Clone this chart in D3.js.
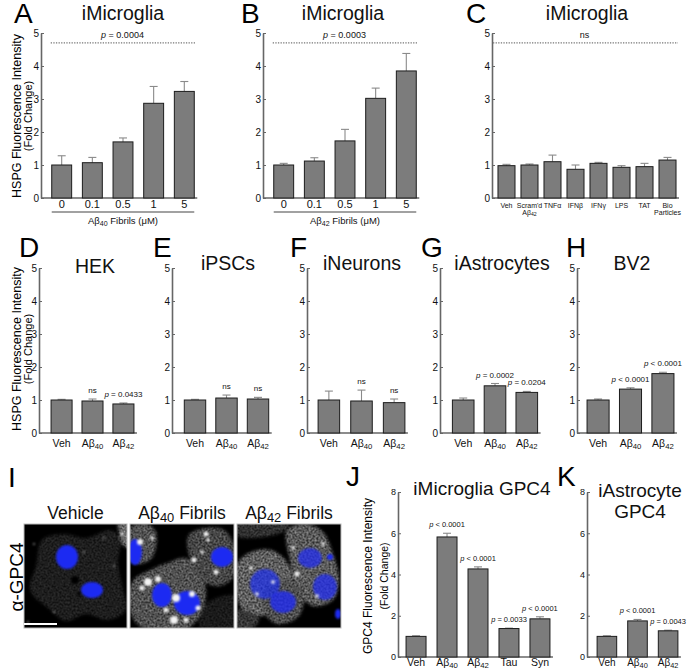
<!DOCTYPE html>
<html>
<head>
<meta charset="utf-8">
<script src="https://cdn.jsdelivr.net/npm/d3@7"></script>
<style>
  body { margin: 0; background: #fff; }
  svg { font-family: "Liberation Sans", Arial, sans-serif; }
</style>
</head>
<body>
<svg width="687" height="671"></svg>
<script>

/* Datos */

// A, B: dosis de fibrillas
const doseCats = ['0', '0.1', '0.5', '1', '5']
const ab40Dose = [1.00, 1.07, 1.70, 2.87, 3.23]
const ab40DoseSem = [0.28, 0.16, 0.12, 0.51, 0.30]
const ab42Dose = [1.00, 1.12, 1.73, 3.02, 3.85]
const ab42DoseSem = [0.05, 0.10, 0.35, 0.31, 0.53]

// C: otros estimulos
const stimCats = ['Veh', "Scram'd|Aβ42", 'TNFα', 'IFNβ', 'IFNγ', 'LPS', 'TAT', 'Bio|Particles']
const stimVals = [0.98, 1.00, 1.10, 0.87, 1.05, 0.93, 0.95, 1.15]
const stimSem = [0.04, 0.03, 0.20, 0.13, 0.03, 0.05, 0.10, 0.08]

// D-H: tipos celulares
const fibCats = ['Veh', 'Aβ40', 'Aβ42']
const hekVals = [1.00, 0.97, 0.88]
const hekSem = [0.02, 0.06, 0.03]
const hekP = ['', 'ns', 'p = 0.0433']
const ipscVals = [1.00, 1.06, 1.03]
const ipscSem = [0.02, 0.09, 0.05]
const ipscP = ['', 'ns', 'ns']
const neurVals = [1.00, 0.97, 0.92]
const neurSem = [0.27, 0.33, 0.11]
const neurP = ['', 'ns', 'ns']
const astVals = [1.00, 1.43, 1.23]
const astSem = [0.06, 0.07, 0.03]
const astP = ['', 'p = 0.0002', 'p = 0.0204']
const bv2Vals = [1.00, 1.33, 1.80]
const bv2Sem = [0.03, 0.04, 0.04]
const bv2P = ['', 'p < 0.0001', 'p < 0.0001']

// J, K: GPC4
const gpcCats = ['Veh', 'Aβ40', 'Aβ42', 'Tau', 'Syn']
const mgGpc4 = [1.00, 5.82, 4.27, 1.38, 1.85]
const mgGpc4Sem = [0.03, 0.18, 0.10, 0.02, 0.10]
const mgGpc4P = ['', 'p < 0.0001', 'p < 0.0001', 'p = 0.0033', 'p < 0.0001']
const astGpc4 = [1.00, 1.75, 1.27]
const astGpc4Sem = [0.03, 0.07, 0.03]
const astGpc4P = ['', 'p < 0.0001', 'p = 0.0043']

const ticks5 = [0, 1, 2, 3, 4, 5]
const ticks8 = [0, 2, 4, 6, 8]



let svg = d3.select('svg')


/* Texto con p en cursiva y subindices de Aβ */

let rich = (txt, str, fs) => {
  if (/^p /.test(str)) {
    txt.append('tspan').attr('font-style', 'italic').text('p')
    txt.append('tspan').text(str.slice(1))
    return txt
  }
  let m = str.match(/^(.*Aβ)(\d+)(.*)$/)
  if (m) {
    txt.append('tspan').text(m[1])
    txt.append('tspan').attr('font-size', fs * 0.74).attr('dy', fs * 0.18).text(m[2])
    if (m[3]) txt.append('tspan').attr('dy', -fs * 0.18).text(m[3])
    return txt
  }
  return txt.text(str)
}

let label = (g, str, x, y, fs, anchor = 'middle') => {
  let t = g.append('text').attr('x', x).attr('y', y)
    .attr('font-size', fs).attr('text-anchor', anchor).attr('fill', '#111')
  return rich(t, str, fs)
}

let ylabel = (x1, x2, cy, l1, l2, fs1, fs2) => {
  let g = svg.append('g')
  g.append('text').attr('transform', `translate(${x1},${cy}) rotate(-90)`)
    .attr('text-anchor', 'middle').attr('font-size', fs1).text(l1)
  g.append('text').attr('transform', `translate(${x2},${cy}) rotate(-90)`)
    .attr('text-anchor', 'middle').attr('font-size', fs2).text(l2)
}



/* Paneles de barras */

let panel = (p) => {
  let g = svg.append('g').attr('class', 'panel')

  let y = d3.scaleLinear().domain([0, p.ymax]).range([p.y0, p.y1])
  let x = d3.scaleBand().domain(p.cats).range([p.ax, p.xr])
    .paddingInner(p.pi).paddingOuter(p.po)
  let bw = x.bandwidth()
  let last = x(p.cats[p.cats.length - 1]) + bw

  // eje y
  let ya = g.append('g').attr('transform', `translate(${p.ax},0)`)
    .call(d3.axisLeft(y).tickValues(p.ticks).tickFormat(d3.format('d'))
      .tickSizeInner(-3).tickSizeOuter(0).tickPadding(2))
  ya.select('.domain').attr('stroke', '#666').attr('stroke-width', 1.6)
  ya.selectAll('.tick line').attr('stroke', '#666')
  ya.selectAll('.tick text').attr('font-size', p.tickFs || 10)
    .attr('font-family', '"Liberation Sans", Arial, sans-serif').attr('fill', '#111')

  // linea base
  g.append('line').attr('x1', p.ax).attr('x2', last + 3)
    .attr('y1', y(0)).attr('y2', y(0))
    .attr('stroke', '#666').attr('stroke-width', 1.6)

  let rows = p.cats.map((c, i) => ({c, v: p.vals[i], e: p.sem[i], a: p.anno ? p.anno[i] : ''}))

  // error
  let err = g.selectAll('g.err').data(rows).enter().append('g').attr('class', 'err')
    .attr('stroke', '#8a8a8a').attr('stroke-width', 1.1)
  err.append('line')
    .attr('x1', d => x(d.c) + bw / 2).attr('x2', d => x(d.c) + bw / 2)
    .attr('y1', d => y(d.v)).attr('y2', d => y(d.v + d.e))
  err.append('line')
    .attr('x1', d => x(d.c) + bw / 2 - 4).attr('x2', d => x(d.c) + bw / 2 + 4)
    .attr('y1', d => y(d.v + d.e)).attr('y2', d => y(d.v + d.e))

  // barras
  g.selectAll('rect.bar').data(rows).enter().append('rect').attr('class', 'bar')
    .attr('x', d => x(d.c)).attr('y', d => y(d.v))
    .attr('width', bw).attr('height', d => y(0) - y(d.v))
    .attr('fill', '#7c7c7c').attr('stroke', '#1c1c1c').attr('stroke-width', 1)

  // etiquetas x
  rows.forEach(d => {
    d.c.split('|').forEach((line, k) => {
      label(g, line, x(d.c) + bw / 2, p.labY + k * p.labFs * 0.95, p.labFs)
    })
    if (d.a) label(g, d.a, x(d.c) + bw / 2, y(d.v + d.e) - 6, p.annoFs)
  })

  // significancia del grupo
  if (p.group) {
    let x1 = p.group.from ?? x(p.cats[0]) - 1
    g.append('line').attr('x1', x1).attr('x2', last + 2)
      .attr('y1', y(p.group.at)).attr('y2', y(p.group.at))
      .attr('stroke', '#777').attr('stroke-width', 1.2).attr('stroke-dasharray', '1.3,1.3')
    label(g, p.group.text, (x1 + last) / 2, y(p.group.at) - 5, 9)
  }

  // linea y texto bajo el eje
  if (p.under) {
    g.append('line').attr('x1', x(p.cats[0])).attr('x2', last)
      .attr('y1', p.under.y).attr('y2', p.under.y)
      .attr('stroke', '#444').attr('stroke-width', 1.2)
    label(g, p.under.text, (x(p.cats[0]) + last) / 2, p.under.y + 12, 9.5)
  }

  // titulo y letra
  p.title.split('|').forEach((line, k) =>
    label(g, line, p.tx, p.ty + k * 21, p.titleFs || 19.5))
  g.append('text').attr('x', p.lx).attr('y', p.ly).attr('font-size', 28).text(p.letter)
}


let panels = [
  {letter: 'A', lx: 14, ly: 23, title: 'iMicroglia', tx: 123, ty: 20,
   ax: 41, xr: 205, pi: 0.35, po: 0.35, y0: 198, y1: 33, ymax: 5, ticks: ticks5,
   cats: doseCats, vals: ab40Dose, sem: ab40DoseSem, labY: 208, labFs: 11,
   group: {text: 'p = 0.0004', at: 4.7}, under: {text: 'Aβ40 Fibrils (μM)', y: 212}},
  {letter: 'B', lx: 241, ly: 23, title: 'iMicroglia', tx: 343, ty: 20,
   ax: 263, xr: 427, pi: 0.35, po: 0.35, y0: 198, y1: 33, ymax: 5, ticks: ticks5,
   cats: doseCats, vals: ab42Dose, sem: ab42DoseSem, labY: 208, labFs: 11,
   group: {text: 'p = 0.0003', at: 4.7}, under: {text: 'Aβ42 Fibrils (μM)', y: 212}},
  {letter: 'C', lx: 466, ly: 23, title: 'iMicroglia', tx: 587, ty: 20,
   ax: 492, xr: 682, pi: 0.26, po: 0.26, y0: 198, y1: 33, ymax: 5, ticks: ticks5,
   cats: stimCats, vals: stimVals, sem: stimSem, labY: 208, labFs: 7,
   group: {text: 'ns', at: 4.7, from: 493}},

  {letter: 'D', lx: 19, ly: 257, title: 'HEK', tx: 95, ty: 273,
   ax: 39, xr: 146, pi: 0.32, po: 0.39, y0: 433, y1: 268, ymax: 5, ticks: ticks5,
   cats: fibCats, vals: hekVals, sem: hekSem, anno: hekP, annoFs: 8, labY: 447, labFs: 10.5},
  {letter: 'E', lx: 153, ly: 257, title: 'iPSCs', tx: 228, ty: 270,
   ax: 172, xr: 281, pi: 0.32, po: 0.39, y0: 433, y1: 268, ymax: 5, ticks: ticks5,
   cats: fibCats, vals: ipscVals, sem: ipscSem, anno: ipscP, annoFs: 8, labY: 447, labFs: 10.5},
  {letter: 'F', lx: 290, ly: 257, title: 'iNeurons', tx: 362, ty: 270,
   ax: 307, xr: 416, pi: 0.34, po: 0.34, y0: 433, y1: 268, ymax: 5, ticks: ticks5,
   cats: fibCats, vals: neurVals, sem: neurSem, anno: neurP, annoFs: 8, labY: 447, labFs: 10.5},
  {letter: 'G', lx: 421, ly: 257, title: 'iAstrocytes', tx: 502, ty: 270,
   ax: 440, xr: 550, pi: 0.32, po: 0.39, y0: 433, y1: 268, ymax: 5, ticks: ticks5,
   cats: fibCats, vals: astVals, sem: astSem, anno: astP, annoFs: 8, labY: 447, labFs: 10.5},
  {letter: 'H', lx: 566, ly: 257, title: 'BV2', tx: 632, ty: 270,
   ax: 577, xr: 684, pi: 0.32, po: 0.31, y0: 433, y1: 268, ymax: 5, ticks: ticks5,
   cats: fibCats, vals: bv2Vals, sem: bv2Sem, anno: bv2P, annoFs: 8, labY: 447, labFs: 10.5},

  {letter: 'J', lx: 346, ly: 486, title: 'iMicroglia GPC4', tx: 482, ty: 495, titleFs: 19,
   ax: 398, xr: 558, pi: 0.355, po: 0.26, y0: 657, y1: 492, ymax: 8, ticks: ticks8, tickFs: 9,
   cats: gpcCats, vals: mgGpc4, sem: mgGpc4Sem, anno: mgGpc4P, annoFs: 7.5, labY: 666, labFs: 10.5},
  {letter: 'K', lx: 557, ly: 486, title: 'iAstrocyte|GPC4', tx: 640, ty: 497, titleFs: 19,
   ax: 587, xr: 688, pi: 0.36, po: 0.33, y0: 657, y1: 492, ymax: 8, ticks: ticks8, tickFs: 9,
   cats: fibCats, vals: astGpc4, sem: astGpc4Sem, anno: astGpc4P, annoFs: 7.5, labY: 666, labFs: 10}
]

panels.forEach(panel)

ylabel(20.5, 31.5, 116, 'HSPG Fluorescence Intensity', '(Fold Change)', 12.5, 11)
ylabel(20.5, 31.5, 349, 'HSPG Fluorescence Intensity', '(Fold Change)', 12.5, 11)
ylabel(372, 387.5, 576, 'GPC4 Fluorescence Intensity', '(Fold Change)', 12, 10.5)



/* Micrografias (I) */

let defs = svg.append('defs')

let tex = defs.append('filter').attr('id', 'tex')
  .attr('color-interpolation-filters', 'sRGB')
  .attr('x', '-20%').attr('y', '-20%').attr('width', '140%').attr('height', '140%')
tex.append('feGaussianBlur').attr('in', 'SourceGraphic').attr('stdDeviation', 1.8).attr('result', 'b')
tex.append('feTurbulence').attr('type', 'fractalNoise').attr('baseFrequency', 0.5)
  .attr('numOctaves', 2).attr('seed', 7).attr('result', 'n0')
tex.append('feGaussianBlur').attr('in', 'n0').attr('stdDeviation', 0.45).attr('result', 'n1')
tex.append('feColorMatrix').attr('in', 'n1').attr('type', 'matrix')
  .attr('values', '1.1 0 0 0 0.05  1.1 0 0 0 0.05  1.1 0 0 0 0.05  0 0 0 0 1').attr('result', 'n')
tex.append('feComposite').attr('in', 'b').attr('in2', 'n').attr('operator', 'arithmetic')
  .attr('k1', 0.75).attr('k2', 0).attr('k3', 0).attr('k4', 0)

let soft = defs.append('filter').attr('id', 'soft')
soft.append('feGaussianBlur').attr('stdDeviation', 0.9)

let micros = [
  {title: 'Vehicle', x: 24, w: 103,
   cells: [
     {pts: [[18,16],[40,10],[62,14],[86,6],[96,14],[94,40],[99,66],[102,86],[84,96],[62,90],[42,97],[24,84],[6,66],[12,42]], c: '#424242'},
     {pts: [[94,0],[104,0],[104,24],[98,20],[95,8]], c: '#e8e8e8'}
   ],
   holes: [[51, 56, 4], [55, 70, 2]],
   nuclei: [[43, 33, 11, 12, 1], [68, 66, 11, 8, 1]],
   spots: [[10, 20, 0.8], [90, 42, 0.8], [30, 88, 0.8], [60, 28, 0.8], [4, 98, 0.8], [80, 14, 0.8], [98, 10, 1.5]]},
  {title: 'Aβ40 Fibrils', x: 130, w: 104,
   cells: [
     {pts: [[2,58],[20,46],[40,38],[55,34],[68,44],[76,66],[72,88],[58,104],[14,104],[2,92]], c: '#b4b4b4'},
     {pts: [[58,12],[74,4],[94,6],[104,22],[104,52],[90,62],[74,58],[62,40]], c: '#9c9c9c'},
     {pts: [[0,4],[16,0],[26,8],[22,34],[8,40],[0,36]], c: '#b4b4b4'},
     {pts: [[76,80],[104,72],[104,104],[70,104]], c: '#3a3a3a'}
   ],
   holes: [],
   nuclei: [[32, 71, 10, 12, 1], [57, 79, 13, 12, 1], [92, 33, 11, 10, 1], [5, 28, 7, 13, 1]],
   spots: [[18,58,4],[28,55,3],[12,64,2.5],[46,74,4],[62,70,3],[44,96,4],[56,96,2.5],[64,36,2.5],
           [72,28,1.8],[76,10,2.5],[78,16,1.8],[86,48,2.5],[10,18,3],[22,14,1.8],[68,84,2.5],[36,86,2.5]]},
  {title: 'Aβ42 Fibrils', x: 237, w: 104,
   cells: [
     {pts: [[0,0],[52,0],[46,8],[0,12]], c: '#6a6a6a'},
     {pts: [[0,40],[14,28],[34,26],[50,38],[56,58],[46,80],[26,92],[6,86],[0,72]], c: '#d4d4d4'},
     {pts: [[50,6],[70,0],[86,8],[96,30],[102,56],[96,76],[76,82],[60,66],[54,40]], c: '#c8c8c8'},
     {pts: [[28,66],[50,56],[66,66],[62,92],[40,100],[26,86]], c: '#b0b0b0'},
     {pts: [[0,86],[22,94],[16,104],[0,104]], c: '#787878'}
   ],
   holes: [],
   nuclei: [[28, 60, 15, 15, 0.7], [46, 78, 13, 11, 0.8], [73, 34, 12, 10, 0.75],
            [88, 63, 12, 13, 0.75], [93, 33, 3, 3, 1], [101, 90, 3, 5, 1]],
   spots: [[36,58,1.8],[60,50,2.5],[80,72,1.8],[20,70,1.8],[56,24,1.8],[86,20,1.8],[14,44,1.8]]}
]

const my = 524, mh = 104

micros.forEach((m, i) => {
  let cp = defs.append('clipPath').attr('id', 'clip' + i)
  cp.append('rect').attr('width', m.w).attr('height', mh)

  let g = svg.append('g').attr('transform', `translate(${m.x},${my})`)
  let inner = g.append('g').attr('clip-path', `url(#clip${i})`)
  inner.append('rect').attr('width', m.w).attr('height', mh).attr('fill', '#000')

  inner.append('g').attr('filter', 'url(#tex)')
    .selectAll('path').data(m.cells).enter().append('path')
    .attr('d', d => d3.line().curve(d3.curveCatmullRomClosed)(d.pts))
    .attr('fill', d => d.c)

  inner.append('g').selectAll('circle').data(m.holes).enter().append('circle')
    .attr('cx', d => d[0]).attr('cy', d => d[1]).attr('r', d => d[2])
    .attr('fill', '#050505').attr('filter', 'url(#soft)')

  inner.append('g').attr('filter', 'url(#soft)')
    .selectAll('ellipse').data(m.nuclei).enter().append('ellipse')
    .attr('cx', d => d[0]).attr('cy', d => d[1]).attr('rx', d => d[2]).attr('ry', d => d[3])
    .attr('fill', '#1f2cf2').attr('opacity', d => d[4])

  inner.append('g').attr('filter', 'url(#soft)')
    .selectAll('circle').data(m.spots).enter().append('circle')
    .attr('cx', d => d[0]).attr('cy', d => d[1]).attr('r', d => d[2])
    .attr('fill', '#f4f4f4')

  g.append('rect').attr('width', m.w).attr('height', mh)
    .attr('fill', 'none').attr('stroke', '#bbb').attr('stroke-width', 1)

  label(svg, m.title, m.x + m.w / 2, 519, 17.5)
})

// barra de escala
svg.append('line').attr('x1', 24).attr('x2', 57).attr('y1', 624).attr('y2', 624)
  .attr('stroke', '#fff').attr('stroke-width', 2)

svg.append('text').attr('transform', 'translate(23,577) rotate(-90)')
  .attr('text-anchor', 'middle').attr('font-size', 19).text('α-GPC4')
svg.append('text').attr('x', 8).attr('y', 487).attr('font-size', 28).text('I')

</script>
</body>
</html>
